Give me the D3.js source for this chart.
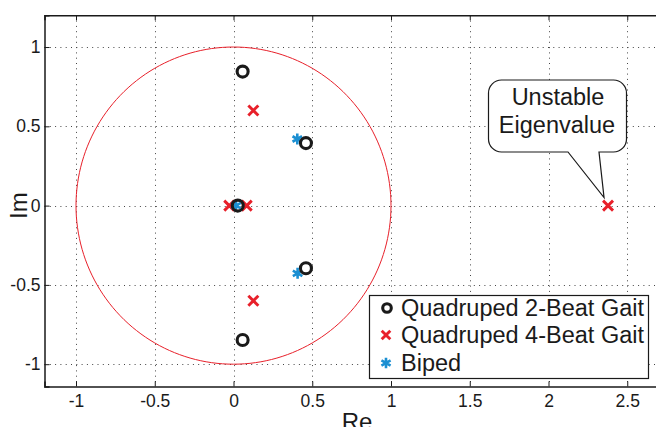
<!DOCTYPE html>
<html>
<head>
<meta charset="utf-8">
<script src="https://cdn.jsdelivr.net/npm/d3@7"></script>
<style>
  body { margin: 0; background: #fff; }
  text { font-family: "Liberation Sans", Arial, sans-serif; fill: #1a1a1a; }
</style>
</head>
<body>
<div id="chart"></div>
<script>
var quad2Re = [0.058, 0.46, 0.027, 0.46, 0.058];
var quad2Im = [0.845, 0.394, 0, -0.395, -0.847];
var quad4Re = [0.126, -0.027, 0.084, 0.126, 2.378];
var quad4Im = [0.6, 0, 0, -0.6, 0];
var bipedRe = [0.405, 0.016, 0.407];
var bipedIm = [0.42, 0, -0.427];

var xTicks = [-1, -0.5, 0, 0.5, 1, 1.5, 2, 2.5];
var yTicks = [-1, -0.5, 0, 0.5, 1];
var legendLabels = ["Quadruped 2-Beat Gait", "Quadruped 4-Beat Gait", "Biped"];

var W = 656, H = 427;
var red = "#e8202a", blue = "#1b8fd2", black = "#1a1a1a";

var svg = d3.select("#chart").append("svg").attr("width", W).attr("height", H);

var x = d3.scaleLinear().domain([-1.2, 2.8]).range([44.5, 674.5]);
var y = d3.scaleLinear().domain([-1.14, 1.2]).range([386.4, 15.3]);

var x0 = x.range()[0], x1 = x.range()[1], y0 = y.range()[0], y1 = y.range()[1];

// dotted grid
var grid = svg.append("g").attr("stroke", "#444").attr("stroke-width", 1).attr("stroke-dasharray", "1,4.3");
grid.selectAll(".gx").data(xTicks).enter().append("line")
  .attr("x1", function(d){ return Math.round(x(d)) + 0.5; })
  .attr("x2", function(d){ return Math.round(x(d)) + 0.5; })
  .attr("y1", y1).attr("y2", y0);
grid.selectAll(".gy").data(yTicks).enter().append("line")
  .attr("y1", function(d){ return Math.round(y(d)) + 0.5; })
  .attr("y2", function(d){ return Math.round(y(d)) + 0.5; })
  .attr("x1", x0).attr("x2", x1);

// unit circle
var ang = d3.range(0, 361, 2);
var circ = d3.line()
  .x(function(a){ return x(Math.cos(a * Math.PI / 180)); })
  .y(function(a){ return y(Math.sin(a * Math.PI / 180)); });
svg.append("path").datum(ang).attr("d", circ)
  .attr("fill", "none").attr("stroke", red).attr("stroke-width", 1);

// axes (inside ticks, matlab style)
var xAxis = d3.axisBottom(x).tickValues(xTicks).tickSize(-5).tickPadding(8).tickFormat(d3.format("~g"));
var yAxis = d3.axisLeft(y).tickValues(yTicks).tickSize(-5).tickPadding(4).tickFormat(d3.format("~g"));

var gx = svg.append("g").attr("transform", "translate(0," + y0 + ")").call(xAxis);
var gy = svg.append("g").attr("transform", "translate(" + x0 + ",0)").call(yAxis);
var gxt = svg.append("g").attr("transform", "translate(0," + y1 + ")")
  .call(d3.axisTop(x).tickValues(xTicks).tickSize(-5).tickFormat(""));
[gx, gy, gxt].forEach(function(g){
  g.select(".domain").attr("stroke", black).attr("stroke-width", 1.5);
  g.selectAll(".tick line").attr("stroke", black);
  g.selectAll(".tick text").attr("font-size", 17.5).attr("fill", black)
    .style("font-family", "'Liberation Sans', Arial, sans-serif");
});
gx.selectAll(".tick text").text(function(d){ return d < 0 ? "-" + Math.abs(d) : d; });
gy.selectAll(".tick text").text(function(d){ return d < 0 ? "-" + Math.abs(d) : d; });

// axis labels
svg.append("text").attr("x", 357).attr("y", 430).attr("text-anchor", "middle")
  .attr("font-size", 24).text("Re");
svg.append("text").attr("transform", "translate(27," + y(0) + ") rotate(-90)")
  .attr("text-anchor", "middle").attr("font-size", 24).text("Im");

// markers
function cross(g, s) {
  g.append("path").attr("d", "M" + (-s) + "," + (-s) + "L" + s + "," + s + "M" + (-s) + "," + s + "L" + s + "," + (-s))
    .attr("stroke", red).attr("stroke-width", 2.9).attr("fill", "none");
}
function star(g, s) {
  var c = s * Math.cos(Math.PI / 6), h = s * 0.5;
  g.append("path").attr("d", "M0," + (-s) + "L0," + s + "M" + (-c) + "," + (-h) + "L" + c + "," + h + "M" + (-c) + "," + h + "L" + c + "," + (-h))
    .attr("stroke", blue).attr("stroke-width", 2.6).attr("fill", "none");
}
function ring(g, r) {
  g.append("circle").attr("r", r).attr("fill", "none").attr("stroke", black).attr("stroke-width", 3.1);
}

var plot = svg.append("g");
quad4Re.forEach(function(d, i){
  cross(plot.append("g").attr("transform", "translate(" + x(d) + "," + y(quad4Im[i]) + ")"), 5);
});
bipedRe.forEach(function(d, i){
  star(plot.append("g").attr("transform", "translate(" + x(d) + "," + y(bipedIm[i]) + ")"), 5.5);
});
quad2Re.forEach(function(d, i){
  ring(plot.append("g").attr("transform", "translate(" + x(d) + "," + y(quad2Im[i]) + ")"), 5.5);
});

// callout for the unstable eigenvalue
var tipX = x(quad4Re[4]) - 4, tipY = y(quad4Im[4]) - 8;
var bx0 = 488.5, by0 = 80, bx1 = 626.5, by1 = 152, r = 13;
var p = d3.path();
p.moveTo(bx0 + r, by0);
p.lineTo(bx1 - r, by0);
p.arcTo(bx1, by0, bx1, by0 + r, r);
p.lineTo(bx1, by1 - r);
p.arcTo(bx1, by1, bx1 - r, by1, r);
p.lineTo(599, by1);
p.lineTo(tipX, tipY);
p.lineTo(568, by1);
p.lineTo(bx0 + r, by1);
p.arcTo(bx0, by1, bx0, by1 - r, r);
p.lineTo(bx0, by0 + r);
p.arcTo(bx0, by0, bx0 + r, by0, r);
p.closePath();
svg.append("path").attr("d", p.toString()).attr("fill", "#fff").attr("stroke", black).attr("stroke-width", 1.2);
svg.append("text").attr("x", 558).attr("y", 105).attr("text-anchor", "middle").attr("font-size", 23.5).text("Unstable");
svg.append("text").attr("x", 557).attr("y", 133).attr("text-anchor", "middle").attr("font-size", 23.5).text("Eigenvalue");

// legend
var leg = svg.append("g");
leg.append("rect").attr("x", 369.5).attr("y", 295.5).attr("width", 279).attr("height", 83)
  .attr("fill", "#fff").attr("stroke", black).attr("stroke-width", 1.2);
var rowY = [308, 335, 363];
leg.selectAll("text").data(legendLabels).enter().append("text")
  .attr("x", 401).attr("y", function(d, i){ return rowY[i] + 8; })
  .attr("font-size", 23.5).text(function(d){ return d; });
ring(leg.append("g").attr("transform", "translate(387," + rowY[0] + ")"), 4.3);
cross(leg.append("g").attr("transform", "translate(386," + rowY[1] + ")"), 4.3);
star(leg.append("g").attr("transform", "translate(386," + rowY[2] + ")"), 5.3);
</script>
</body>
</html>
